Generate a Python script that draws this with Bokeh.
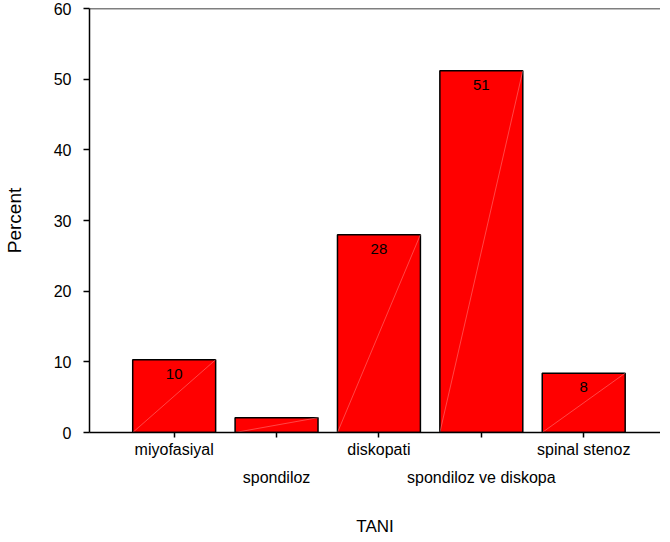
from bokeh.plotting import figure
from bokeh.models import (Range1d, FixedTicker, LinearAxis, Span, ColumnDataSource)
from bokeh.core.properties import value
from bokeh.embed import file_html
from bokeh.resources import INLINE

categories = ["miyofasiyal", "spondiloz", "diskopati", "spondiloz ve diskopa", "spinal stenoz"]
percents = [10.3, 2.1, 28.0, 51.2, 8.4]
y_ticks = [0, 10, 20, 30, 40, 50, 60]

FONT = "Liberation Sans"
BAR_W = 0.81

idx = list(range(len(categories)))
src = ColumnDataSource(dict(
    x=idx,
    top=percents,
    left=[i - BAR_W / 2 for i in idx],
    right=[i + BAR_W / 2 for i in idx],
    zero=[0] * len(idx),
    lab=[f"{round(v)}" if v >= 5 else "" for v in percents],
))

p = figure(width=660, height=538, output_backend="svg", toolbar_location=None,
           x_range=Range1d(-0.827, 4.75), y_range=Range1d(0, 60),
           min_border_left=87, min_border_top=8, min_border_bottom=102, min_border_right=0)
p.outline_line_color = None
p.xgrid.visible = False
p.ygrid.visible = False
p.background_fill_color = "white"
p.border_fill_color = "white"

p.vbar(x="x", top="top", width=BAR_W, bottom=0, source=src,
       fill_color="#FF0000", line_color="black", line_width=1.5)
p.segment(x0="left", y0="zero", x1="right", y1="top", source=src,
          line_color="#ffb0b0", line_width=0.5, line_alpha=0.8)
p.text(x="x", y="top", text="lab", source=src, text_align="center",
       text_baseline="middle", y_offset=14, text_font=value(FONT),
       text_font_size="15px", text_color="black")

p.add_layout(Span(location=60, dimension="width", line_color="black", line_width=1.5))

# Y axis
ya = p.yaxis[0]
ya.ticker = FixedTicker(ticks=y_ticks)
ya.minor_tick_line_color = None
ya.major_tick_out = 6
ya.major_tick_in = 0
ya.major_label_standoff = 12
ya.major_label_text_font = FONT
ya.major_label_text_font_size = "16px"
ya.major_label_text_color = "black"
ya.axis_line_width = 1.5
ya.axis_line_color = "black"
ya.major_tick_line_color = "black"
ya.major_tick_line_width = 1.5
ya.axis_label = "Percent"
ya.axis_label_text_font = FONT
ya.axis_label_text_font_size = "19px"
ya.axis_label_text_font_style = "normal"
ya.axis_label_text_color = "black"
ya.axis_label_standoff = 26

# X axis row 1 (even categories)
xa = p.xaxis[0]
xa.ticker = FixedTicker(ticks=idx)
xa.major_label_overrides = {i: (categories[i] if i % 2 == 0 else " ") for i in idx}
xa.minor_tick_line_color = None
xa.major_tick_out = 5
xa.major_tick_in = 0
xa.major_label_standoff = 3
xa.major_label_text_font = FONT
xa.major_label_text_font_size = "16px"
xa.major_label_text_color = "black"
xa.axis_line_width = 1.5
xa.axis_line_color = "black"
xa.major_tick_line_color = "black"
xa.major_tick_line_width = 1.5

# X axis row 2 (odd categories)
xa2 = LinearAxis(ticker=FixedTicker(ticks=[i for i in idx if i % 2 == 1]),
                 major_label_overrides={i: categories[i] for i in idx if i % 2 == 1})
xa2.axis_line_color = None
xa2.major_tick_line_color = None
xa2.minor_tick_line_color = None
xa2.major_tick_out = 0
xa2.major_tick_in = 0
xa2.major_label_standoff = 8
xa2.major_label_text_font = FONT
xa2.major_label_text_font_size = "16px"
xa2.major_label_text_color = "black"
xa2.axis_label = "TANI"
xa2.axis_label_text_font = FONT
xa2.axis_label_text_font_size = "17px"
xa2.axis_label_text_font_style = "normal"
xa2.axis_label_text_color = "black"
xa2.axis_label_standoff = 28
p.add_layout(xa2, "below")

open("out.html", "w").write(file_html(p, INLINE))
